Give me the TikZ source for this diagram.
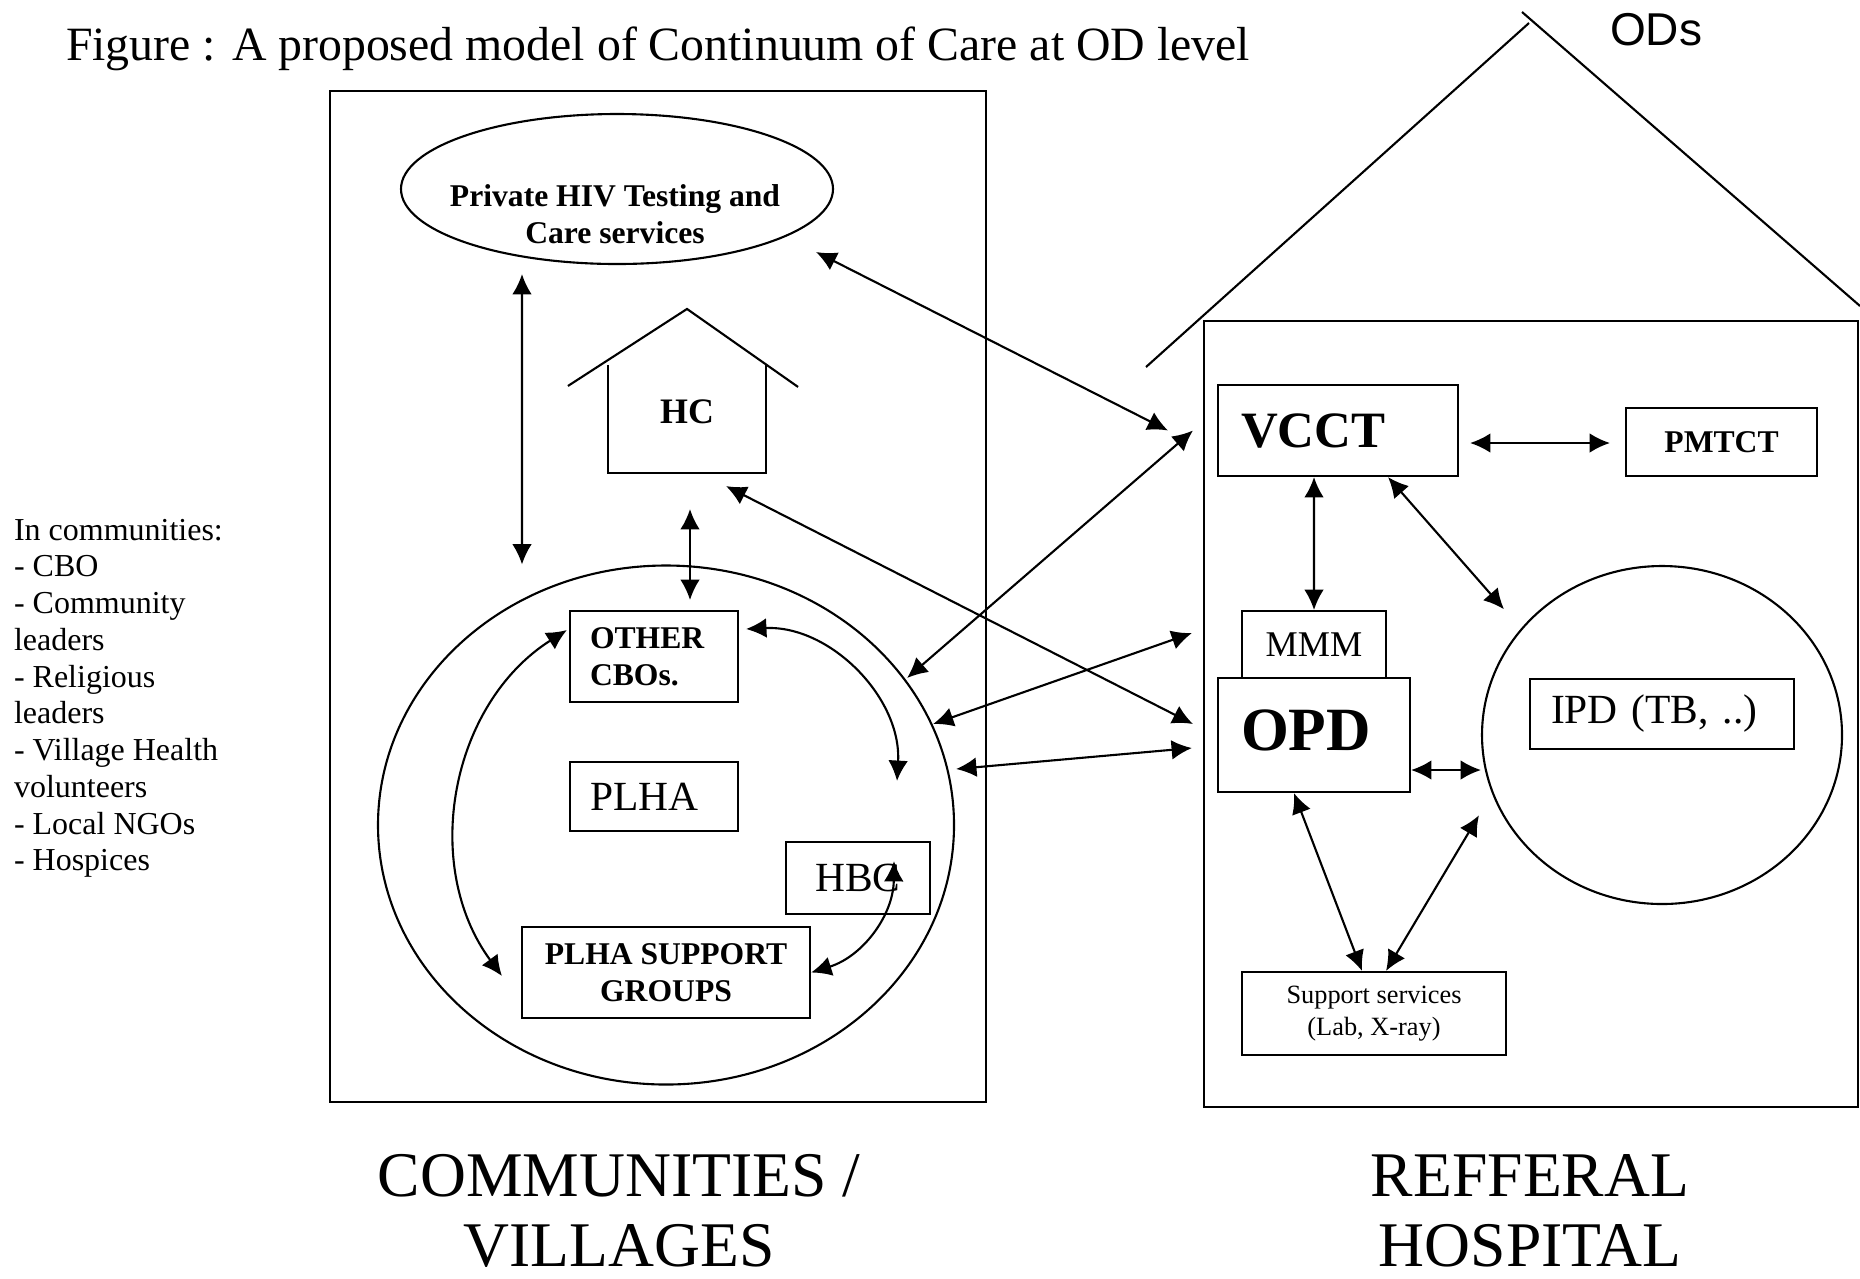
\documentclass[tikz,border=0pt]{standalone}
\usepackage{fontspec}
\setmainfont{Liberation Serif}
\newfontfamily\odsfont{Liberation Sans}
\usetikzlibrary{shapes.geometric,arrows.meta}

\begin{document}
\begin{tikzpicture}[line width=0.6pt,
    >={Latex[length=5.8pt,width=5.6pt]},
    link/.style={<->},
    box/.style={draw,rectangle,inner sep=0pt},
    boldlbl/.style={font=\fontsize{9}{10.5}\selectfont\bfseries,align=center},
    biglbl/.style={font=\fontsize{11.8}{14}\selectfont}]
    \useasboundingbox (0,0) rectangle (18.60,-12.78);

    % headings
    \node[anchor=base west,inner sep=0pt,font=\fontsize{13.6}{16}\selectfont] (title)
        at (0.65,-0.60) {Figure : A proposed model of Continuum of Care at OD level};
    \node[anchor=base west,inner sep=0pt,font=\fontsize{13.1}{15}\selectfont\odsfont] (ods)
        at (16.09,-0.45) {ODs};
    \node[anchor=north west,inner sep=0pt,align=left,font=\fontsize{9.1}{10.45}\selectfont] (members)
        at (0.13,-5.18) {In communities:\\- CBO\\- Community\\leaders\\- Religious\\leaders\\- Village Health\\volunteers\\- Local NGOs\\- Hospices};
    \node[anchor=north,inner sep=0pt,align=center,font=\fontsize{18.1}{19.9}\selectfont] (commlabel)
        at (6.19,-11.53) {COMMUNITIES /\\VILLAGES};
    \node[anchor=north,inner sep=0pt,align=center,font=\fontsize{18.1}{19.9}\selectfont] (hosplabel)
        at (15.30,-11.53) {REFFERAL\\HOSPITAL};

    % communities side
    \draw (3.30,-0.91) rectangle (9.86,-11.02);
    \node[draw,ellipse,inner sep=0pt,minimum width=4.32cm,minimum height=1.50cm] (private) at (6.17,-1.89) {};
    \node[boldlbl] (privatetext) at (6.15,-2.14) {Private HIV Testing and\\Care services};
    \node[inner sep=0pt,minimum width=1.56cm,minimum height=1.06cm,text depth=0.14cm,
          font=\fontsize{10.2}{12}\selectfont\bfseries] (hc) at (6.87,-4.19) {HC};
    \draw (hc.north west) -- (hc.south west) -- (hc.south east) -- (hc.north east);
    \draw ([xshift=-0.40cm,yshift=-0.21cm]hc.north west) -- ([yshift=0.56cm]hc.north)
          -- ([xshift=0.32cm,yshift=-0.22cm]hc.north east);
    \node[draw,ellipse,inner sep=0pt,minimum width=5.76cm,minimum height=5.19cm] (village) at (6.66,-8.25) {};
    \node[box,boldlbl,align=left,minimum height=0.91cm,inner xsep=0.20cm,text width=1.28cm] (othercbo)
        at (6.54,-6.565) {OTHER\\CBOs.};
    \node[box,biglbl,align=left,minimum height=0.69cm,inner xsep=0.20cm,text width=1.28cm] (plha)
        at (6.54,-7.965) {PLHA};
    \node[box,biglbl,minimum width=1.44cm,minimum height=0.72cm] (hbc) at (8.58,-8.78) {HBC};
    \node[box,boldlbl,minimum width=2.88cm,minimum height=0.91cm] (plhasg) at (6.66,-9.725) {PLHA SUPPORT\\GROUPS};

    % referral hospital side
    \draw (12.04,-3.21) rectangle (18.58,-11.07);
    \draw (11.46,-3.67) -- (15.29,-0.23);
    \draw (15.22,-0.12) -- (18.60,-3.06);
    \node[box,align=left,minimum height=0.91cm,inner xsep=0.23cm,text width=1.94cm,
          font=\fontsize{14.5}{16}\selectfont\bfseries] (vcct) at (13.38,-4.305) {VCCT};
    \node[box,boldlbl,minimum width=1.91cm,minimum height=0.68cm] (pmtct) at (17.215,-4.42) {PMTCT};
    \node[box,minimum width=1.44cm,minimum height=0.67cm,font=\fontsize{10.3}{12}\selectfont] (mmm)
        at (13.14,-6.445) {MMM};
    \node[box,align=left,minimum height=1.14cm,inner xsep=0.23cm,text width=1.46cm,text depth=0.10cm,
          font=\fontsize{17.5}{20}\selectfont\bfseries] (opd) at (13.14,-7.35) {OPD};
    \node[draw,ellipse,inner sep=0pt,minimum width=3.60cm,minimum height=3.38cm] (ipdzone) at (16.62,-7.35) {};
    \node[box,biglbl,align=left,minimum height=0.70cm,inner xsep=0.21cm,text width=2.22cm] (ipd)
        at (16.62,-7.14) {IPD (TB, ..)};
    \node[box,align=center,minimum width=2.64cm,minimum height=0.83cm,font=\fontsize{7.5}{9.1}\selectfont] (support)
        at (13.74,-10.135) {Support services\\(Lab, X-ray)};

    % links inside the villages
    \draw[link] ([xshift=-0.95cm,yshift=-0.09cm]private.south) -- ([xshift=-1.44cm]village.north);
    \draw[link] ([xshift=0.03cm,yshift=-0.36cm]hc.south) -- ([xshift=0.36cm,yshift=0.10cm]othercbo.north);
    \draw[link] ([xshift=-0.02cm,yshift=0.265cm]othercbo.west) to[bend right=47]
                ([xshift=-0.19cm,yshift=-0.035cm]plhasg.west);
    \draw[link] ([xshift=0.07cm,yshift=0.275cm]othercbo.east) to[bend left=48]
                ([xshift=0.39cm,yshift=0.60cm]hbc.north);
    \draw[link] ([xshift=0.36cm,yshift=0.17cm]hbc.center) to[bend left=36] (plhasg.east);

    % links between villages and hospital
    \draw[link] ([xshift=-0.18cm,yshift=-0.63cm]private.east) -- ([xshift=-0.49cm]vcct.west);
    \draw[link] ([xshift=-0.48cm,yshift=1.47cm]village.east) -- ([xshift=-0.24cm]vcct.west);
    \draw[link] ([xshift=0.39cm,yshift=-0.13cm]hc.south) -- ([xshift=-0.24cm,yshift=0.11cm]opd.west);
    \draw[link] ([xshift=-0.22cm,yshift=1.01cm]village.east) -- ([xshift=-0.49cm,yshift=0.115cm]mmm.west);
    \draw[link] ([xshift=0.01cm,yshift=0.56cm]village.east) -- ([xshift=-0.25cm,yshift=-0.13cm]opd.west);

    % links inside the hospital
    \draw[link] ([xshift=0.11cm,yshift=-0.125cm]vcct.east) -- ([xshift=-0.15cm,yshift=-0.01cm]pmtct.west);
    \draw[link] ([xshift=-0.24cm]vcct.south) -- (mmm.north);
    \draw[link] ([xshift=0.50cm]vcct.south) -- ([xshift=-0.30cm,yshift=0.055cm]ipdzone.north west);
    \draw[link] ([yshift=-0.35cm]opd.east) -- ([yshift=-0.35cm]ipdzone.west);
    \draw[link] ([xshift=-0.20cm]opd.south) -- ([xshift=-0.12cm]support.north);
    \draw[link] ([xshift=-0.55cm,yshift=0.40cm]ipdzone.south west) -- ([xshift=0.12cm]support.north);
\end{tikzpicture}
\end{document}
